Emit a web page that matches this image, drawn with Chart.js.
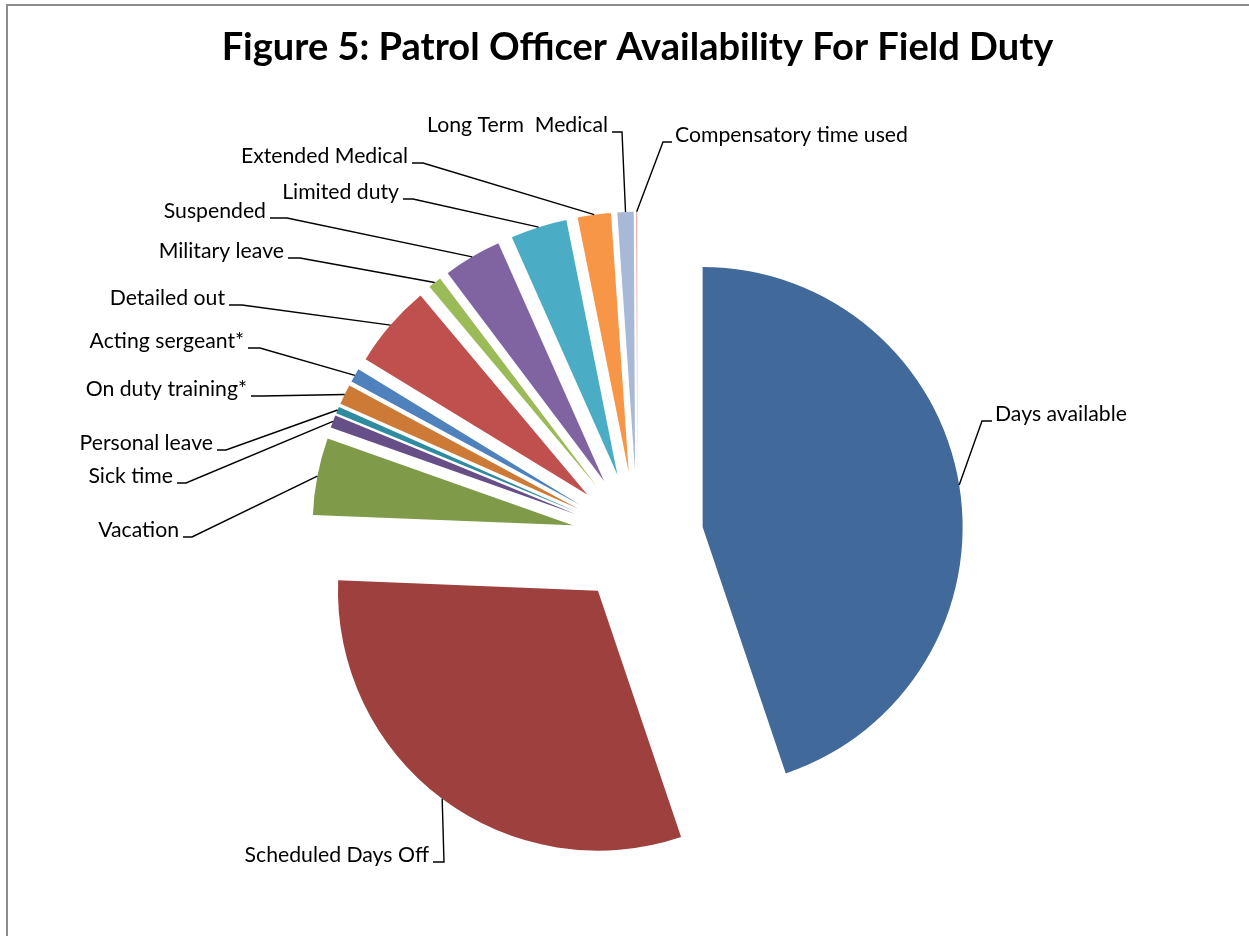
<!DOCTYPE html>
<html>
<head>
<meta charset="utf-8">
<script src="https://cdn.jsdelivr.net/npm/chart.js@4.4.1/dist/chart.umd.min.js"></script>
<style>
html,body{margin:0;padding:0;background:#fff;overflow:hidden;}
#frame{position:absolute;left:6px;top:4px;width:1400px;height:1100px;border:2px solid #8c8c8c;box-sizing:border-box;}
#wrap{position:absolute;left:0;top:0;width:1249px;height:936px;}
</style>
</head>
<body>
<div id="frame"></div>
<div id="wrap"><canvas id="pieChart" width="1249" height="936"></canvas></div>
<script>
const title = "Figure 5: Patrol Officer Availability For Field Duty";

const categories = [
  "Days available", "Scheduled Days Off", "Vacation", "Sick time", "Personal leave",
  "On duty training*", "Acting sergeant*", "Detailed out", "Military leave", "Suspended",
  "Limited duty", "Extended Medical", "Long Term  Medical", "Compensatory time used"
];

// share of officer days, percent
const shares = [44.82, 30.81, 4.79, 0.78, 0.42, 1.25, 0.86, 5.17, 0.83, 3.61, 3.51, 2.06, 1.01, 0.08];

const sliceColors = [
  "#416a9b", "#9e413e", "#7f9a48", "#664e87", "#2e8ba0", "#cc7a35", "#4f81bd",
  "#c0504d", "#9bbb59", "#8064a2", "#4bacc6", "#f79646", "#a8b9d8", "#e2b0af"
];

// label placement: [elbow x, y, end of tick x]
const labelLayout = [
  [982, 421, 992], [444, 862, 433], [192, 537, 183], [186, 483, 177], [226, 450, 217],
  [262, 396, 251], [260, 348, 248], [242, 305, 229], [300, 258, 288], [287, 218, 270],
  [413, 199, 403], [423, 163, 412], [622, 132, 612], [663, 142, 672]
];

const PIE_RADIUS = 260;
const EXPLODE = 66;

function hasFont(name) {
  const c = document.createElement("canvas").getContext("2d");
  const s = "Compensatory time used";
  c.font = "40px monospace";
  const a = c.measureText(s).width;
  c.font = `40px "${name}", monospace`;
  return c.measureText(s).width !== a;
}

const FAMILY = hasFont("Liberation Sans Narrow") ? '"Liberation Sans Narrow"' : "Lato";

function fitSize(text, weight, target) {
  const c = document.createElement("canvas").getContext("2d");
  c.font = `${weight} 100px ${FAMILY}`;
  return 100 * target / c.measureText(text).width;
}

const titleSize = fitSize(title, "bold", 832);
const labelSize = fitSize("Compensatory time used", "normal", 233);

const titlePadTop = 61 - 0.9465 * titleSize;
const titlePadBottom = 139.6 - titlePadTop - 1.2 * titleSize;

const explodePlugin = {
  id: "explode",
  beforeDatasetDraw(chart, args) {
    const ctx = chart.ctx;
    args.meta.data.forEach(arc => {
      const mid = (arc.startAngle + arc.endAngle) / 2;
      ctx.save();
      ctx.translate(Math.cos(mid) * EXPLODE, Math.sin(mid) * EXPLODE);
      arc.draw(ctx);
      ctx.restore();
    });
    return false;
  }
};

const leaderPlugin = {
  id: "leaders",
  afterDatasetsDraw(chart) {
    const ctx = chart.ctx;
    const meta = chart.getDatasetMeta(0);
    ctx.save();
    ctx.strokeStyle = "#000";
    ctx.lineWidth = 1.4;
    ctx.fillStyle = "#000";
    ctx.font = `${labelSize}px ${FAMILY}`;
    ctx.textBaseline = "alphabetic";
    meta.data.forEach((arc, i) => {
      const mid = (arc.startAngle + arc.endAngle) / 2;
      const r = arc.outerRadius + EXPLODE;
      const px = arc.x + Math.cos(mid) * r;
      const py = arc.y + Math.sin(mid) * r;
      const [ex, y, tx] = labelLayout[i];
      ctx.beginPath();
      ctx.moveTo(px, py);
      ctx.lineTo(ex, y);
      ctx.lineTo(tx, y);
      ctx.stroke();
      if (tx > ex) {
        ctx.textAlign = "left";
        ctx.fillText(categories[i], tx + 3, y);
      } else {
        ctx.textAlign = "right";
        ctx.fillText(categories[i], tx - 4, y);
      }
    });
    ctx.restore();
  }
};

const ctx = document.getElementById("pieChart");

new Chart(ctx, {
  type: "pie",
  data: {
    labels: categories,
    datasets: [{
      data: shares,
      backgroundColor: sliceColors,
      borderWidth: 0,
      radius: PIE_RADIUS
    }]
  },
  options: {
    responsive: false,
    animation: false,
    events: [],
    layout: { padding: { left: 26, right: 0, top: 0, bottom: 0 } },
    plugins: {
      legend: { display: false },
      tooltip: { enabled: false },
      title: {
        display: true,
        text: title,
        color: "#000",
        font: { family: FAMILY, size: titleSize, weight: "bold" },
        padding: { top: titlePadTop, bottom: titlePadBottom }
      }
    }
  },
  plugins: [explodePlugin, leaderPlugin]
});
</script>
</body>
</html>
